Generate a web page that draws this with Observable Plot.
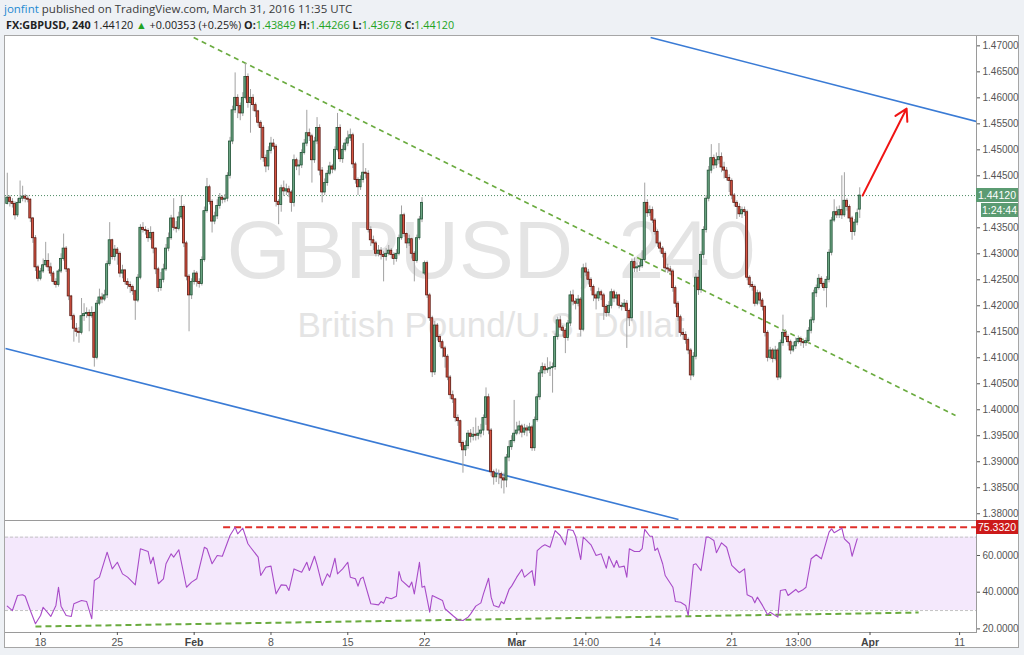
<!DOCTYPE html>
<html><head><meta charset="utf-8">
<script src="https://cdn.jsdelivr.net/npm/d3@7"></script>
<script src="https://cdn.jsdelivr.net/npm/@observablehq/plot@0.6"></script>
<style>
body{margin:0;background:#eef1f5;}
#wrap{position:relative;width:1024px;height:655px;overflow:hidden;font-family:"Liberation Sans",Arial,sans-serif;}
.hdr{position:absolute;left:4px;font-family:"Open Sans",sans-serif;font-size:11.5px;color:#3a3a3a;white-space:nowrap;}
.g{color:#23a323;}
#frame{position:absolute;left:4px;top:35px;width:1013px;height:611px;border:1px solid #a6a6a6;background:#fff;}
.pane{position:absolute;left:5px;}
.tag{position:absolute;height:14px;color:#fff;font-size:10.5px;line-height:14px;text-align:center;font-family:"Liberation Sans",Arial,sans-serif;}
</style></head><body>
<div id="wrap">
  <div class="hdr" style="top:1px"><span style="color:#1f8ad1">jonfint</span> published on TradingView.com, March 31, 2016 11:35 UTC</div>
  <div class="hdr" style="top:17px;left:6px;color:#222;font-size:10.8px"><b>FX:GBPUSD, 240</b> 1.44120 <span class="g">▲</span> +0.00353 (+0.25%) <b>O:</b><span class="g">1.43849</span> <b>H:</b><span class="g">1.44266</span> <b>L:</b><span class="g">1.43678</span> <b>C:</b><span class="g">1.44120</span></div>
  <div id="frame"></div>
  <div id="main" class="pane" style="top:36px"></div>
  <div id="rsi" class="pane" style="top:520px"></div>
</div>
<script>
// ---- data (prices stored as pips above the base) ----
const priceBase = 1.38, pipSize = 0.0001;
const firstIndex = -13; // candle index 0 = Mon 18 Jan 2016, 4h candles, weekends removed
const openOverrides = [[-13, 596], [150, 462], [320, 585]];
const closePips = [
608,600,596,574,598,606,610,606,604,568,
530,474,452,466,478,486,474,462,446,440,
466,490,510,470,418,380,356,350,348,380,
384,386,380,386,300,404,416,412,420,480,
526,494,508,500,462,468,446,440,436,428,
410,454,550,546,544,530,540,510,470,434,
450,470,510,530,568,550,548,570,590,520,
456,420,446,462,446,442,488,582,628,600,
562,572,592,608,604,606,650,716,776,800,
784,770,800,840,790,800,786,774,752,742,
684,668,698,712,706,600,594,626,620,624,
618,598,680,668,670,694,712,732,726,680,
716,742,660,618,636,654,668,662,700,742,
682,700,712,722,728,672,642,628,642,656,
654,546,526,520,500,506,498,494,500,506,
498,490,500,530,574,538,520,528,500,486,
530,566,598,482,420,376,272,362,340,330,
318,302,262,228,220,184,178,136,122,130,
154,148,152,150,154,160,184,224,160,80,
70,76,76,68,64,108,128,140,154,160,
168,156,164,160,166,126,180,224,270,282,
276,278,280,282,340,372,358,352,338,366,
420,408,404,412,354,472,464,450,436,420,
414,426,420,398,386,400,426,414,420,400,
398,404,390,376,484,472,474,476,488,598,
578,584,564,542,520,510,500,472,470,466,
434,404,378,348,344,334,314,266,302,454,
430,498,546,606,660,684,670,680,686,666,
660,646,640,612,598,590,576,584,580,454,
440,436,404,424,410,398,348,300,314,298,
314,262,328,348,340,330,314,322,330,336,
330,328,332,352,372,424,434,452,442,434,
450,502,564,580,574,584,574,602,590,568,
542,560,578,612];
const highPips = [
655,612,606,600,606,640,630,614,612,606,
570,535,478,472,490,522,500,482,466,452,
470,500,538,514,472,420,384,366,358,414,
404,396,392,398,388,410,432,424,430,486,
560,528,516,512,504,478,470,452,446,440,
430,460,556,560,552,548,552,542,512,474,
464,480,518,540,574,606,562,580,612,594,
524,460,452,468,466,452,494,590,645,632,
604,580,604,616,612,614,656,724,784,848,
806,790,810,866,846,816,806,790,776,756,
746,690,706,724,720,710,604,632,640,634,
630,622,690,684,680,700,720,776,740,730,
724,762,748,666,644,660,676,672,706,770,
748,708,720,736,740,732,676,646,650,712,
664,660,552,534,524,516,512,504,510,516,
510,502,508,536,592,578,540,536,530,504,
536,572,608,486,486,424,380,370,366,344,
334,322,306,266,236,222,190,180,140,140,
160,162,166,184,168,172,190,242,230,164,
84,86,84,80,78,114,140,150,218,176,
178,172,172,170,174,170,186,230,276,290,
288,300,292,290,346,378,380,362,356,372,
428,430,414,420,416,480,482,470,454,440,
424,434,430,424,402,408,432,430,426,422,
406,412,410,394,490,492,482,484,506,636,
604,592,590,568,546,524,514,504,480,476,
470,438,408,382,356,350,338,318,310,462,
468,504,552,612,668,710,690,694,712,694,
676,666,652,644,616,602,596,590,590,584,
458,446,440,430,428,414,400,352,320,318,
322,318,334,382,354,344,334,330,338,342,
340,336,338,358,378,430,440,460,456,446,
456,508,570,604,590,592,650,656,606,594,
572,566,586,627];
const lowPips = [
594,590,588,565,570,596,600,598,598,560,
520,466,446,448,462,474,466,456,440,434,
436,462,486,464,410,372,330,340,328,344,
370,376,350,376,282,296,400,404,408,414,
476,488,486,478,454,452,440,432,424,420,
372,406,450,540,536,522,526,500,460,426,
428,444,466,504,526,544,540,544,566,512,
448,350,412,440,436,434,438,484,578,594,
540,556,566,586,596,598,600,644,710,770,
760,756,764,796,780,732,774,762,744,680,
676,656,660,692,700,590,556,580,610,612,
608,580,590,660,650,664,690,706,716,636,
674,710,650,598,612,630,650,654,658,696,
676,674,696,706,716,664,634,612,622,636,
644,540,514,506,494,494,488,446,486,496,
490,478,484,496,526,532,510,514,490,446,
482,526,560,458,414,370,262,266,332,320,
300,280,256,220,212,176,168,128,78,110,
124,136,140,140,142,146,150,170,152,72,
55,60,56,48,38,50,100,122,136,150,
152,146,150,148,154,120,120,176,218,262,
268,270,264,232,276,334,352,340,308,332,
360,400,392,398,340,350,456,440,428,408,
392,408,410,372,378,380,394,406,400,394,
390,394,318,360,370,464,464,466,472,484,
570,572,558,536,512,502,492,464,462,458,
426,396,370,340,334,326,306,256,262,296,
420,424,490,540,600,654,662,664,672,656,
644,640,618,604,590,566,570,568,572,448,
434,428,398,400,402,390,340,292,296,290,
294,256,258,322,334,322,306,310,316,326,
322,318,322,326,346,366,416,430,436,428,
396,444,496,560,568,568,566,570,582,560,
526,534,554,568];

const rsiIdx = [-13,-11,-9,-7,-6,-4,-2,0,1,4,6,7,8,10,12,13,16,18,20,21,23,26,28,30,32,34,37,39,42,43,44,46,48,49,51,52,54,57,59,61,64,65,67,69,71,74,76,77,79,81,82,85,86,88,90,92,94,96,97,99,102,104,105,107,108,110,112,113,115,116,118,120,121,123,124,125,126,129,132,133,134,135,137,139,140,141,144,145,146,148,149,150,152,153,157,158,161,163,165,167,168,170,172,173,175,176,177,179,180,181,183,184,186,188,189,192,193,194,196,197,199,201,203,205,206,208,209,211,212,215,217,219,221,222,224,225,226,228,229,230,232,234,235,236,238,239,240,241,243,244,247,248,250,252,253,255,256,258,260,261,263,264,266,268,270,273,275,276,278,279,280,282,284,285,288,289,291,292,295,296,298,299,301,303,305,308,309,310,313,314,316,317,319];
const rsiVal = [32.4,30.0,38.2,38.6,37.8,30.0,22.8,27.3,31.8,26.8,32.8,42.7,32.4,27.3,26.8,33.7,35.5,34.9,25.5,46.4,48.2,61.8,52.7,56.3,50.0,48.2,44.0,63.7,62.2,55.5,59.1,44.6,47.3,55.5,60.9,59.1,63.1,42.7,45.5,47.3,64.5,63.7,55.5,60.0,59.6,70.9,75.4,71.8,74.9,66.4,64.5,59.1,49.1,53.6,54.2,39.1,44.0,43.7,40.9,52.7,50.9,56.3,51.8,59.6,54.9,43.7,50.0,48.2,58.5,50.0,52.7,56.3,48.2,47.3,43.3,47.3,48.2,33.7,33.1,34.9,34.0,37.3,36.4,37.8,51.3,46.4,42.7,45.5,39.1,56.3,42.7,43.3,29.1,38.2,35.5,31.0,27.3,25.0,24.6,26.4,28.2,32.4,34.2,39.1,47.6,37.3,32.8,31.8,34.9,33.7,41.5,43.3,48.2,52.4,48.2,51.8,43.7,62.7,65.1,65.8,64.5,73.6,70.9,65.8,74.2,73.6,70.5,57.8,70.0,65.8,60.0,60.9,53.1,59.6,53.6,57.3,53.6,54.2,48.2,63.7,62.2,62.2,63.7,74.2,70.5,70.5,62.7,64.0,55.5,49.1,42.7,34.9,34.5,32.8,27.3,54.9,55.5,51.8,70.0,70.0,68.2,61.5,66.9,64.5,54.6,50.6,52.7,38.6,37.3,34.2,37.3,32.8,27.7,29.1,26.4,40.9,41.5,38.2,41.5,40.0,41.5,42.7,58.2,60.4,58.2,72.7,74.5,72.4,74.9,69.1,66.4,59.6,69.1];

// visible price axis labels (1.44000 is hidden behind the last-price tags)
const priceTicks = [1.38,1.385,1.39,1.395,1.40,1.405,1.41,1.415,1.42,1.425,1.43,1.435,1.445,1.45,1.455,1.46,1.465,1.47];
const rsiTicks = [20, 40, 60];
const rsiBand = [30, 70];
const rsiMaxLevel = 75.332;
const lastPrice = 1.44120;
const countdown = "1:24:44";
const timeTickIdx = [0, 30, 60, 90, 120, 150, 186, 213, 240, 270, 296, 324, 359];
const timeTickLabels = ["18","25","Feb","8","15","22","Mar","14:00","14","21","13:00","Apr","11"];
const monthLabels = ["Feb","Mar","Apr"];
const watermark = ["GBPUSD, 240", "British Pound/U.S. Dollar"];
// drawn lines: [index1, value1, index2, value2]
const channelLines = [[238.3, 1.4716, 365.6, 1.45544], [-13.7, 1.41179, 249.2, 1.37890]];
const fallingTrend = [[59.8, 1.4716, 357.4, 1.3989]];
const targetArrow = [[321.1, 1.4412, 338.3, 1.45794]];
const rsiSupport = [[-2, 21.3, 343, 28.9]];
const rsiMaxFrom = 71.5;

const xDomain = [-13.7, 365.6];
const yDomain = [1.3787, 1.4718];
const rsiDomain = [18.04, 79.07];

// ---- build candles ----
const P = v => priceBase + v * pipSize;
const candles = closePips.map((c, k) => {
  const i = firstIndex + k;
  const ov = openOverrides.find(d => d[0] === i);
  const o = P(ov ? ov[1] : closePips[k - 1]);
  const cl = P(c);
  return {i, o, c: cl, h: Math.max(P(highPips[k]), o, cl), l: Math.min(P(lowPips[k]), o, cl), up: cl >= o};
});
const rsi = rsiIdx.map((i, k) => ({i, v: rsiVal[k]}));
const toLink = a => a.map(d => ({x1: d[0], y1: d[1], x2: d[2], y2: d[3]}));

const font = "Liberation Sans, Arial, sans-serif";
const W = 1019, MR = 48; // plot area ends at page x 976

const main = Plot.plot({
  width: W, height: 484,
  marginLeft: 0, marginRight: MR, marginTop: 0, marginBottom: 0,
  x: {type: "linear", domain: xDomain, axis: null},
  y: {domain: yDomain, axis: null},
  style: {background: "transparent", fontFamily: font, overflow: "visible"},
  marks: [
    Plot.text([watermark[0]], {text: d => d, frameAnchor: "middle", dy: -27, fontSize: 82, fill: "#e4e4e4", fontFamily: font}),
    Plot.text([watermark[1]], {text: d => d, frameAnchor: "middle", dy: 47, fontSize: 35, fill: "#e4e4e4", fontFamily: font}),
    Plot.ruleY([lastPrice], {stroke: "#4d8a63", strokeDasharray: "1,2"}),
    Plot.link(toLink(channelLines), {x1: "x1", y1: "y1", x2: "x2", y2: "y2", stroke: "#3a7bd5", strokeWidth: 1.6, clip: true}),
    Plot.link(toLink(fallingTrend), {x1: "x1", y1: "y1", x2: "x2", y2: "y2", stroke: "#6aab3f", strokeWidth: 1.6, strokeDasharray: "5,4", clip: true}),
    Plot.ruleX(candles, {x: "i", y1: "l", y2: "h", stroke: "#a2a2a2", strokeWidth: 1}),
    Plot.rect(candles, {x1: d => d.i - 0.4, x2: d => d.i + 0.4, y1: "o", y2: "c",
      fill: d => d.up ? "#6ba583" : "#d75442", stroke: d => d.up ? "#225437" : "#5b1a13", strokeWidth: 0.8}),
    Plot.arrow(toLink(targetArrow), {x1: "x1", y1: "y1", x2: "x2", y2: "y2", stroke: "#f01414", strokeWidth: 2, headLength: 10}),
    Plot.frame({anchor: "right", stroke: "#9a9a9a"}),
    Plot.frame({anchor: "bottom", stroke: "#9a9a9a"}),
    Plot.axisY({anchor: "right", ticks: priceTicks, tickFormat: d => d.toFixed(5), tickSize: 3, tickPadding: 3, fontSize: 10, color: "#555", fontFamily: font})
  ]
});
document.getElementById("main").appendChild(main);

const rsiPlot = Plot.plot({
  width: W, height: 128,
  marginLeft: 0, marginRight: MR, marginTop: 0, marginBottom: 16,
  x: {type: "linear", domain: xDomain, axis: null},
  y: {domain: rsiDomain, axis: null},
  style: {background: "transparent", fontFamily: font, overflow: "visible"},
  marks: [
    Plot.rect([{lo: rsiBand[0], hi: rsiBand[1]}], {y1: "lo", y2: "hi", fill: "#f4e8fc"}),
    Plot.ruleY(rsiBand, {stroke: "#c4c4c4", strokeDasharray: "3,2"}),
    Plot.link(toLink(rsiSupport), {x1: "x1", y1: "y1", x2: "x2", y2: "y2", stroke: "#6aab3f", strokeWidth: 2, strokeDasharray: "6,4"}),
    Plot.ruleY([{v: rsiMaxLevel, from: rsiMaxFrom}], {y: "v", x1: "from", x2: () => xDomain[1], stroke: "#e0302a", strokeWidth: 2, strokeDasharray: "7,4"}),
    Plot.line(rsi, {x: "i", y: "v", stroke: "#a84bc8", strokeWidth: 1.1}),
    Plot.frame({anchor: "right", stroke: "#9a9a9a"}),
    Plot.frame({anchor: "bottom", stroke: "#9a9a9a"}),
    Plot.frame({anchor: "top", stroke: "#9a9a9a"}),
    Plot.axisY({anchor: "right", ticks: rsiTicks, tickFormat: d => d.toFixed(4), tickSize: 3, tickPadding: 3, fontSize: 10, color: "#555", fontFamily: font}),
    Plot.axisX({anchor: "bottom", ticks: timeTickIdx.filter((d, k) => !monthLabels.includes(timeTickLabels[k])),
      tickFormat: d => timeTickLabels[timeTickIdx.indexOf(d)], tickSize: 3, tickPadding: 3, fontSize: 10.5, color: "#555", fontFamily: font}),
    Plot.axisX({anchor: "bottom", ticks: timeTickIdx.filter((d, k) => monthLabels.includes(timeTickLabels[k])),
      tickFormat: d => timeTickLabels[timeTickIdx.indexOf(d)], tickSize: 3, tickPadding: 3, fontSize: 10.5, fontWeight: "bold", color: "#444", fontFamily: font})
  ]
});
document.getElementById("rsi").appendChild(rsiPlot);

// ---- axis value tags placed with the plots' own scales ----
const wrap = document.getElementById("wrap");
function tag(text, top, left, width, bg) {
  const d = document.createElement("div");
  d.className = "tag";
  d.textContent = text;
  Object.assign(d.style, {top: top + "px", left: left + "px", width: width + "px", background: bg});
  wrap.appendChild(d);
}
const yMain = main.scale("y");
const yR = rsiPlot.scale("y");
const lp = 36 + yMain.apply(lastPrice);
tag(lastPrice.toFixed(5), lp - 7, 976, 42, "#5b9b72");
tag(countdown, lp + 8, 981, 37, "#5b9b72");
tag(rsiMaxLevel.toFixed(4), 520 + yR.apply(rsiMaxLevel) - 7, 976, 42, "#cc1a1a");
</script>
</body></html>
